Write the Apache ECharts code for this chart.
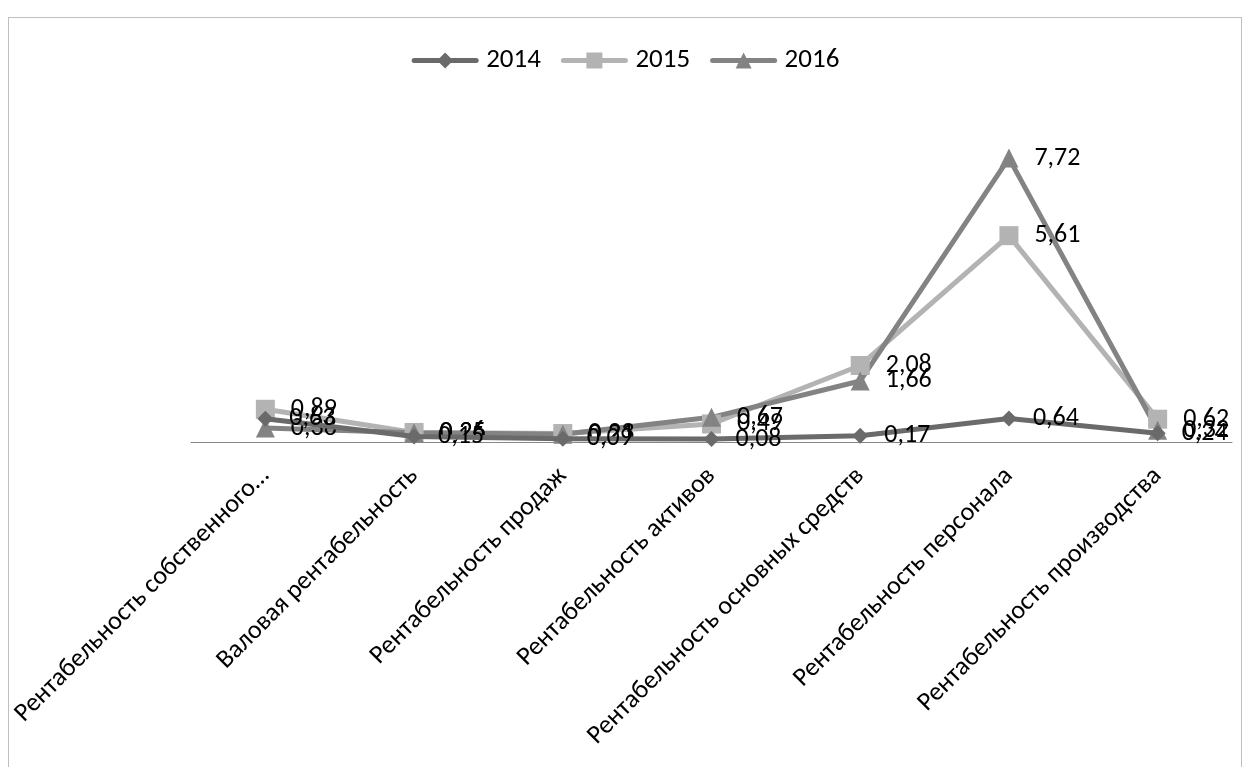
<!DOCTYPE html>
<html>
<head>
<meta charset="utf-8">
<script src="https://cdn.jsdelivr.net/npm/echarts@6/dist/echarts.min.js"></script>
<style>
  html, body { margin: 0; padding: 0; background: #fff; }
  #frame { position: absolute; left: 8px; top: 17px; width: 1234px; height: 760px; border: 1px solid #bfbfbf; box-sizing: border-box; }
  #chart { position: absolute; left: 0; top: 0; width: 1251px; height: 767px; }
</style>
</head>
<body>
<div id="frame"></div>
<div id="chart"></div>
<script>
const categories = [
  'Рентабельность собственного…',
  'Валовая рентабельность',
  'Рентабельность продаж',
  'Рентабельность активов',
  'Рентабельность основных средств',
  'Рентабельность персонала',
  'Рентабельность производства'
];
const years = ['2014', '2015', '2016'];
const values2014 = [0.63, 0.15, 0.09, 0.08, 0.17, 0.64, 0.24];
const values2015 = [0.89, 0.26, 0.23, 0.49, 2.08, 5.61, 0.62];
const values2016 = [0.38, 0.25, 0.21, 0.67, 1.66, 7.72, 0.32];

const colors = ['#6a6a6a', '#b3b3b3', '#838383'];
const symbols = ['diamond', 'rect', 'triangle'];
const symbolSizes = [16, 19, 19];
const seriesData = [values2014, values2015, values2016];

const chart = echarts.init(document.getElementById('chart'));
const font = 'Carlito, "Open Sans", "Noto Sans", sans-serif';

chart.setOption({
  animation: false,
  textStyle: { fontFamily: font },
  legend: {
    top: 42,
    left: 'center',
    itemWidth: 62,
    itemHeight: 20,
    itemGap: 20,
    lineStyle: { width: 5 },
    textStyle: { fontSize: 27, color: '#000', fontFamily: font, padding: [0, 0, 0, 5] },
    data: years
  },
  grid: { left: 191, right: 19, top: 111, bottom: 325 },
  xAxis: {
    type: 'category',
    data: categories,
    boundaryGap: true,
    axisLine: { lineStyle: { color: '#868686', width: 1 } },
    axisTick: { show: false },
    axisLabel: {
      rotate: 45,
      interval: 0,
      fontSize: 26,
      color: '#000',
      fontFamily: font,
      margin: 30
    }
  },
  yAxis: {
    type: 'value',
    min: 0,
    max: 9,
    show: false,
    splitLine: { show: false }
  },
  series: years.map((y, i) => ({
    name: y,
    type: 'line',
    data: seriesData[i],
    symbol: symbols[i],
    symbolSize: symbolSizes[i],
    lineStyle: { color: colors[i], width: 5, cap: 'round', join: 'round' },
    itemStyle: { color: colors[i] },
    z: i === 0 ? 3 : 2,
    label: {
      show: true,
      position: 'right',
      distance: 16,
      fontSize: 26,
      color: '#000',
      fontFamily: font,
      formatter: p => p.value.toFixed(2).replace('.', ',')
    }
  }))
});
</script>
</body>
</html>
